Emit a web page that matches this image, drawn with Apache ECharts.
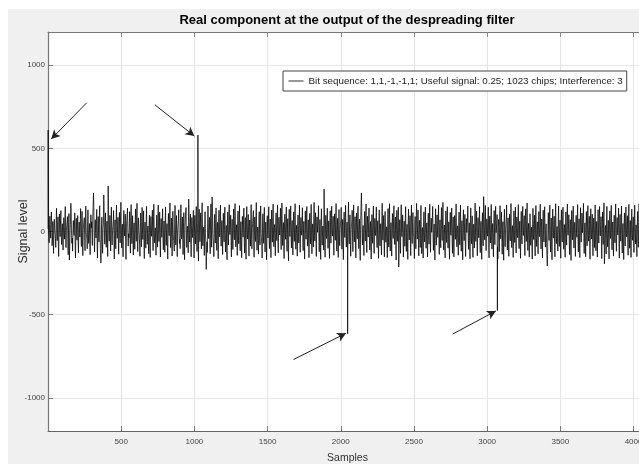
<!DOCTYPE html>
<html>
<head>
<meta charset="utf-8">
<script src="https://cdn.jsdelivr.net/npm/echarts@6/dist/echarts.min.js"></script>
<style>
html,body{margin:0;padding:0;background:#fff;}
#chart{width:639px;height:466px;}
</style>
</head>
<body>
<div id="chart"></div>
<script>
// ---- data ----
const titleText = 'Real component at the output of the despreading filter';
const legendText = 'Bit sequence: 1,1,-1,-1,1; Useful signal: 0.25; 1023 chips; Interference: 3';
const xName = 'Samples';
const yName = 'Signal level';
const xTicks = [500, 1000, 1500, 2000, 2500, 3000, 3500, 4000];
const yTicks = [-1000, -500, 0, 500, 1000];
const xRange = [0, 4092];
const yRange = [-1200, 1200];

// correlation peaks (sample index, level)
const spikeSamples = [1, 1024, 2047, 3070];
const spikeValues = [610, 580, -615, -475];

// noise floor, readings every 5 samples starting at sample 1
const noiseAStart = 1;
const noiseStep = 5;
const noiseA = [
15,-32,41,-8,57,22,-46,-71,38,9,-44,66,-18,27,-92,49,-5,78,-35,17,
-58,31,-12,86,-49,6,40,-81,55,-172,10,170,-25,-40,19,-3,51,-104,36,-15,
45,-64,20,-9,72,-39,57,-88,14,33,-54,79,-4,-45,61,-27,12,-73,48,23,
-34,88,232,-59,29,-11,66,-84,40,-22,97,-47,-190,38,-65,17,220,-30,54,-42,
24,-77,274,-19,44,-56,81,-33,7,63,-96,28,-48,89,-12,38,-70,56,-26,108,
-43,14,-86,65,-5,48,-104,26,77,-37,-13,58,-63,92,-29,43,-75,19,-50,71,
-21,99,-60,33,-1,-80,53,-39,79,-17,60,-97,22,-46,83,-31,10,-67,47,-92,
39,-8,64,-56,90,-27,5,-72,46,-41,85,-23,55,-88,31,-12,69,-51,26,-61,
78,-36,17,-95,52,-6,101,-44,34,-76,59,-20,-56,87,-34,42,-83,13,65,-30,
-47,94,-16,39,-71,54,-98,29,74,-42,11,-64,195,-25,49,-79,35,-13,62,-89,
44,-32,81,-58,18,-106,68,-23,53,-48,103,-38,9,-74,57,-27,-228,-62,82,-15,
37,-66,95,-43,208,-18,-80,48,-29,71,-54,21,-93,63,-10,87,-39,27,-69,52,
-25,76,-61,12,-99,57,-35,90,-5,45,-82,31,-50,67,-19,97,-42,15,-73,60,
-31,85,-56,24,-88,41,-11,72,-65,36,-95,80,-17,48,-78,29,-39,91,-48,19,
62,-84,40,-25,101,-55,9,-68,58,-36,83,-13,-89,51,-31,74,-59,23,-98,43,
-14,79,-49,32,-86,64,-27,94,-42,16,-76,54,-22,88,-64,38,-7,70,-53,99,
-37,21,-92,50,-18,76,-58,33,-103,66,-10,82,-46,27,-70,58,-24,95,-52,13,
-80,46,-29,86,-62,37,-7,73,-57,25,-94,61,-17,78,-40,29,-86,53,-32,92,
-67,17,-42,102,-23,56,-79,39,-5,83,-61,30,-97,68,-36,12,-53,256,-81,45,
-15,70,-47,26,-91,62,-30,80,-9,41,-73,51,-21,96,-58,34,-85,66,-38,19,
75,-51,30,-98,57,-13,86,-44,22,-68,104,-32,48,-78,11,63,-60,89,-25,39,
-87,55,-17,81,-50,31,-101,67,232,-35,13,-74,59,-24,93,-63,42,-12,71,-55,
23,-95,49,-30,82,-66,34,-8,77,-46,27,-90,64,-39,18,-70,98,-20,45,-81,
60,-28,10,-86,69,-43,95,-58,20,-76,52,-16,84,-34,38,-100,62,-24,75,-214,
30,-65,90,-11,48,-84,26,-40,79,-60,16,-97,66,-20,43,-73,87,-31,56,-10,
-91,40,-49,97,-18,64,-77,28,-43,85,-67,9,-89,58,-26,76,-48,21,-83,54,
-32,93,-62,35,-5,80,-56,18,-100,68,-37,48,-13,89,-69,30,-45,73,-22,103,
-54,16,-87,61,-28,78,-48,24,-95,56,-9,70,-65,39,-82,46,-19,95,-41,13,
-72,58,-34,87,-59,28,-98,65,-22,50,-79,34,-6,82,-53,22,-92,71,-31,45,
-84,18,-47,99,-25,60,-74,37,-15,77,-63,26,-96,55,-39,210,-21,86,-57,33,
-11,73,-87,43,-30,92,-52,20,-81,63,-36,80,-7,48,-94,31,-60,83,-18,57,
-68,25,-100,66,-42,16,88,-54,35,-78,50,-24,97,-46,13,-85,61,-29,75,-64,
38,-14,91,-50,27,-89,59,-33,80,-9,44,-74,67,-26,99,-56,20,-82,52,-38,
10,-95,69,-20,46,-76,85,-41,24,-66,59,-12,93,-51,32,-88,63,-27,77,-45,
19,-71,-208,55,-23,87,-61,36,-99,67,-16,42,-80,96,-33,12,-59,82,-43,29,
-90,64,-27,75,-52,17,-84,58,-37,94,-8,49,-69,31,-101,62,-21,81,-48,23,
-78,45,-14,91,-61,33,-86,72,-28,54,-7,98,-65,21,-80,59,-39,85,-25,42,
-96,68,-18,50,-74,35,-45,89,-57,26,-83,65,-31,79,-10,41,-92,57,-35,100,
-194,14,-67,80,-42,29,-94,61,-17,86,-54,24,-76,47,-30,95,-59,38,-8,70,
-89,50,-25,82,-64,20,-98,55,-40,76,-13,44,-72,92,-49,29,-85,66,-23,40,
-61,87,-34,16,-80,59,-44,96,-19,52,-70,33,-100,74,-28,48,-65,23,-87,61
];

// noise floor, readings every 5 samples starting at sample 3
const noiseBStart = 3;
const noiseB = [
25,-68,92,-40,118,-85,60,-132,74,18,-96,140,-55,88,-150,104,-30,126,-78,47,
-112,83,-46,150,-97,35,90,-140,108,-120,42,130,-71,-118,66,-24,112,-158,80,-52,
96,-128,57,-33,138,-90,121,-145,40,83,-116,152,-20,-104,130,-72,48,-139,101,58,
-84,146,150,-122,71,-39,133,-160,90,-62,155,-101,-140,86,-131,45,140,-76,112,-95,
62,-150,160,-58,97,-117,147,-81,29,126,-165,70,-104,158,-41,85,-137,115,-68,176,
-99,44,-152,127,-26,104,-168,66,141,-88,-37,119,-130,162,-73,95,-142,52,-107,136,
-59,170,-121,82,-15,-149,111,-92,145,-48,124,-163,57,-100,151,-77,33,-133,98,-156,
90,-29,128,-115,164,-68,22,-143,99,-94,159,-60,116,-154,78,-35,137,-110,63,-125,
148,-83,47,-166,109,-25,172,-97,80,-147,122,-54,-118,157,-80,96,-151,38,131,-72,
-103,161,-44,88,-139,114,-170,70,144,-96,31,-128,140,-63,104,-152,84,-36,127,-159,
97,-75,150,-120,49,-178,134,-61,112,-105,173,-86,26,-144,119,-67,-150,-126,153,-43,
85,-134,166,-95,150,-49,-151,103,-70,142,-114,55,-164,128,-32,158,-88,66,-138,110,
-62,147,-124,36,-170,117,-81,161,-19,98,-153,73,-108,136,-50,168,-92,41,-144,123,
-74,156,-116,59,-158,91,-34,141,-130,83,-167,150,-45,103,-148,69,-88,162,-104,50,
126,-155,87,-60,174,-113,27,-136,119,-80,154,-38,-160,107,-71,145,-123,57,-169,95,
-39,149,-102,75,-157,129,-64,165,-91,42,-146,112,-55,160,-128,86,-21,140,-109,171,
-84,54,-163,104,-47,148,-119,77,-176,133,-30,154,-99,66,-141,118,-60,167,-107,37,
-148,99,-69,158,-125,84,-22,143,-115,61,-166,124,-46,150,-88,70,-157,109,-74,163,
-134,46,-93,175,-57,113,-150,88,-16,155,-122,72,-168,137,-82,33,-112,150,-155,97,
-42,140,-101,64,-162,125,-70,152,-28,92,-143,106,-53,168,-118,79,-156,132,-85,50,
145,-106,72,-169,116,-36,157,-94,56,-135,177,-75,100,-149,31,127,-121,160,-62,89,
-159,111,-44,152,-103,74,-174,135,150,-81,36,-145,120,-58,165,-127,92,-33,141,-111,
60,-166,102,-71,153,-132,79,-24,148,-97,65,-161,130,-86,47,-140,170,-52,96,-152,
121,-65,28,-157,138,-93,167,-117,53,-148,108,-42,155,-78,87,-172,127,-59,146,-140,
71,-131,161,-31,100,-154,62,-89,150,-120,43,-168,134,-51,95,-145,158,-73,114,-27,
-163,90,-104,169,-46,129,-147,67,-96,157,-133,24,-160,118,-63,147,-101,52,-153,110,
-76,164,-125,80,-14,151,-113,45,-171,137,-82,100,-35,160,-138,70,-98,144,-54,175,
-112,39,-158,124,-66,149,-100,58,-167,115,-23,141,-131,88,-153,96,-47,166,-92,34,
-143,117,-80,158,-119,65,-170,131,-55,103,-150,77,-18,153,-108,52,-164,142,-73,94,
-155,44,-99,171,-60,122,-146,83,-38,149,-127,61,-168,113,-86,140,-50,157,-115,76,
-28,146,-159,93,-69,163,-106,48,-152,126,-79,151,-19,101,-166,72,-121,155,-44,116,
-137,59,-173,134,-91,40,160,-111,82,-149,104,-56,168,-97,35,-156,124,-66,147,-129,
87,-37,162,-103,62,-161,121,-75,151,-24,95,-145,136,-60,171,-114,49,-154,107,-83,
26,-166,139,-48,98,-147,156,-90,58,-134,120,-31,164,-105,75,-159,128,-63,149,-94,
46,-142,-140,114,-54,158,-124,81,-170,135,-40,92,-152,167,-73,30,-118,153,-90,68,
-161,130,-63,146,-107,42,-155,118,-82,165,-22,101,-139,71,-174,126,-50,152,-99,55,
-150,97,-35,162,-123,76,-157,143,-64,111,-18,169,-132,52,-152,120,-86,156,-58,91,
-167,137,-45,104,-146,80,-97,160,-116,60,-154,131,-70,150,-26,89,-163,117,-78,172,
-140,36,-135,151,-92,67,-165,124,-42,157,-110,57,-148,98,-68,166,-119,84,-21,141,
-160,103,-58,154,-129,48,-169,112,-87,147,-32,95,-143,163,-101,66,-156,134,-53,88,
-126,159,-75,40,-151,120,-95,168,-46,107,-140,73,-171,145,-63,100,-133,54,-158,125
];

// annotation arrows: [fromSample, fromLevel, toSample, toLevel]
const arrowAnnotations = [
  [264, 774, 22, 556],
  [730, 762, 1000, 574],
  [1677, -770, 2036, -612],
  [2764, -617, 3060, -478]
];

// ---- build series data ----
const points = [];
noiseA.forEach((v, i) => points.push([noiseAStart + noiseStep * i, v]));
noiseB.forEach((v, i) => points.push([noiseBStart + noiseStep * i, v]));
spikeSamples.forEach((s, i) => points.push([s, spikeValues[i]]));
points.sort((a, b) => a[0] - b[0]);

const FONT = "'Liberation Sans', Arial, Helvetica, sans-serif";
const plain = v => String(v);
const chart = echarts.init(document.getElementById('chart'), null, {renderer: 'canvas'});

chart.setOption({
  animation: false,
  backgroundColor: '#f0f0f0',
  textStyle: {fontFamily: FONT},
  graphic: [
    {type: 'rect', z: -10, shape: {x: 0, y: 0, width: 639, height: 9}, style: {fill: '#fff'}},
    {type: 'rect', z: -10, shape: {x: 0, y: 0, width: 8, height: 466}, style: {fill: '#fff'}},
    {type: 'rect', z: -10, shape: {x: 0, y: 464, width: 639, height: 2}, style: {fill: '#fff'}},
    {type: 'text', z: 10, x: 347, y: 20,
      style: {text: titleText, fontFamily: FONT, fontWeight: 'bold', fontSize: 13,
        fill: '#000', align: 'center', verticalAlign: 'middle'}}
  ],
  grid: {
    left: 48, top: 32, bottom: 35, right: -8,
    containLabel: false, outerBoundsMode: 'none',
    show: true, backgroundColor: '#fff', borderWidth: 0
  },
  legend: {
    left: 283, top: 71,
    padding: [5, 4, 5, 5],
    itemWidth: 15, itemHeight: 10,
    backgroundColor: '#fff',
    borderColor: '#444', borderWidth: 1, borderRadius: 0,
    textStyle: {fontSize: 9.8, color: '#222', fontFamily: FONT},
    itemStyle: {opacity: 0},
    lineStyle: {color: '#333', width: 1},
    data: [legendText]
  },
  xAxis: [
    {
      type: 'value', min: xRange[0], max: xRange[1],
      name: xName, nameLocation: 'middle', nameGap: 22,
      nameTextStyle: {fontSize: 10.5, color: '#333', fontFamily: FONT},
      axisLine: {show: true, onZero: false, lineStyle: {color: '#666', width: 1}},
      axisTick: {show: true, inside: true, length: 5, customValues: xTicks, lineStyle: {color: '#777'}},
      axisLabel: {customValues: xTicks, formatter: plain, fontSize: 8, color: '#444', margin: 7, fontFamily: FONT},
      splitLine: {show: true, lineStyle: {color: '#e6e6e6', width: 1}}
    },
    {
      type: 'value', min: xRange[0], max: xRange[1], position: 'top',
      axisLine: {show: true, onZero: false, lineStyle: {color: '#777', width: 1}},
      axisTick: {show: true, inside: true, length: 5, customValues: xTicks, lineStyle: {color: '#888'}},
      axisLabel: {show: false},
      splitLine: {show: false}
    }
  ],
  yAxis: {
    type: 'value', min: yRange[0], max: yRange[1],
    name: yName, nameLocation: 'middle', nameGap: 18, nameRotate: 90,
    nameMoveOverlap: false,
    nameTextStyle: {fontSize: 12.5, color: '#333', fontFamily: FONT},
    axisLine: {show: true, onZero: false, lineStyle: {color: '#777', width: 1.2}},
    axisTick: {show: true, inside: true, length: 5, customValues: yTicks, lineStyle: {color: '#777'}},
    axisLabel: {customValues: yTicks, formatter: plain, fontSize: 8, color: '#444', margin: 3, fontFamily: FONT},
    splitLine: {show: true, lineStyle: {color: '#e6e6e6', width: 1}}
  },
  series: [{
    name: legendText,
    type: 'line',
    data: points,
    showSymbol: false,
    symbol: 'none',
    sampling: false,
    lineStyle: {color: '#000', width: 0.75},
    itemStyle: {color: '#000'},
    z: 3,
    markLine: {
      silent: true,
      symbol: ['none', 'arrow'],
      symbolSize: [7, 9],
      animation: false,
      label: {show: false},
      lineStyle: {color: '#222', width: 1, type: 'solid'},
      emphasis: {disabled: true},
      data: arrowAnnotations.map(a => [{coord: [a[0], a[1]]}, {coord: [a[2], a[3]]}])
    }
  }]
});
</script>
</body>
</html>
